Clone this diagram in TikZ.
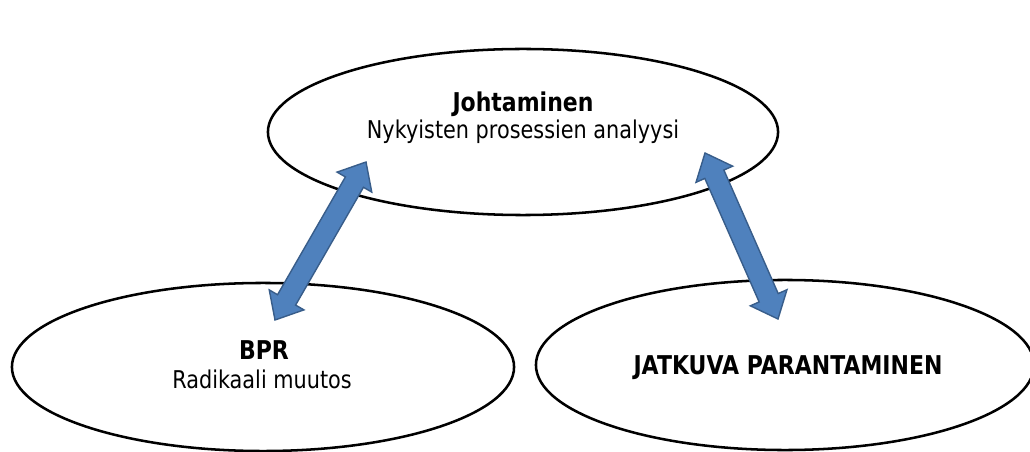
\documentclass[tikz,border=0pt]{standalone}
\usepackage{fontspec}
\setmainfont{DejaVu Sans}[FakeStretch=0.85]
\usetikzlibrary{shapes.geometric, calc}
\definecolor{arrowblue}{HTML}{4F81BD}
\definecolor{arrowedge}{HTML}{385D8A}
\tikzset{
  oval/.style={draw, ellipse, line width=1.8pt, inner sep=0pt, outer sep=0pt},
  heading/.style={anchor=base, font=\fontsize{18.4}{21}\selectfont\bfseries},
  subheading/.style={anchor=base, font=\fontsize{17.4}{21}\selectfont},
  twoway/.style={fill=arrowblue, draw=arrowedge, line width=1pt, line join=miter}
}
% block arrow with a head at both ends, from (#1) to (#2)
\newcommand{\twowayarrow}[2]{%
  \draw[twoway] (#1)
    -- ($(#1)!0.58cm!(#2)!0.5cm!90:(#2)$) -- ($(#1)!0.58cm!(#2)!0.26cm!90:(#2)$)
    -- ($(#2)!0.58cm!(#1)!0.26cm!-90:(#1)$) -- ($(#2)!0.58cm!(#1)!0.5cm!-90:(#1)$)
    -- (#2)
    -- ($(#2)!0.58cm!(#1)!0.5cm!90:(#1)$) -- ($(#2)!0.58cm!(#1)!0.26cm!90:(#1)$)
    -- ($(#1)!0.58cm!(#2)!0.26cm!-90:(#2)$) -- ($(#1)!0.58cm!(#2)!0.5cm!-90:(#2)$)
    -- cycle;}

\begin{document}
\begin{tikzpicture}[x=0.025cm, y=-0.025cm]
\useasboundingbox (0,0) rectangle (1030,452);
\node[oval, minimum width=12.75cm, minimum height=4.15cm] (johto) at (523,132) {};
\node[oval, minimum width=12.55cm, minimum height=4.2cm] (bpr) at (263,367) {};
\node[oval, minimum width=12.45cm, minimum height=4.25cm] (jatkuva) at (785,365) {};
\node[heading] (johtoname) at (523,112) {Johtaminen};
\node[subheading] (johtotext) at (523,139) {Nykyisten prosessien analyysi};
\node[heading] (bprname) at (264,359) {BPR};
\node[subheading] (bprtext) at (262,388) {Radikaali muutos};
\node[heading] (jatkuvaname) at (788,374) {JATKUVA PARANTAMINEN};
\coordinate (tipA) at (366,162);
\coordinate (tipB) at (275,320);
\coordinate (tipC) at (705,153);
\coordinate (tipD) at (778,319);
\twowayarrow{tipA}{tipB}
\twowayarrow{tipC}{tipD}
\end{tikzpicture}
\end{document}
